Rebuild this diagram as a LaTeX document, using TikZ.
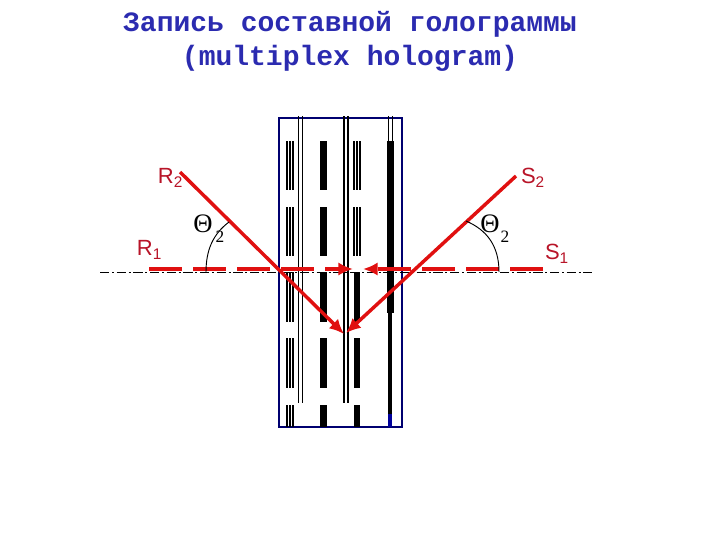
\documentclass[tikz,border=0pt]{standalone}
\usepackage{fontspec}
\setmainfont{Liberation Sans}
\setmonofont{Liberation Mono}
\newfontfamily\thetafont{Liberation Serif}
\usetikzlibrary{arrows.meta}
\definecolor{titleblue}{HTML}{2B2BB0}
\definecolor{beamred}{HTML}{E01010}
\definecolor{labelred}{HTML}{B81428}
\definecolor{framenavy}{HTML}{000070}
\tikzset{titletext/.style = {font=\ttfamily\bfseries\fontsize{21}{25.5}\selectfont,
                                    color = titleblue,
                                    align = center,
                                    inner sep=0pt},
         beamlabel/.style = {font=\fontsize{16.5}{20}\selectfont,
                                    color = labelred,
                                    inner sep=0pt},
         anglelabel/.style = {font=\thetafont\fontsize{20}{24}\selectfont,
                                    color = black,
                                    inner sep=0pt},
         angleindex/.style = {font=\thetafont\fontsize{13}{16}\selectfont,
                                    color = black,
                                    inner sep=0pt},
         beam/.style = {draw = beamred,
                                    line width = 2.6pt,
                                    -{Latex[length=11pt,width=10pt]}},
         flatbeam/.style = {beam,
                                    line width = 3.2pt,
                                    dash pattern = on 24.75pt off 8.25pt},
         fringe/.style = {draw = black,
                                    line width = 1.3pt},
         heavyfringe/.style = {draw = black,
                                    line width = 5.2pt},
         anglearc/.style = {draw = black,
                                    line width = 0.7pt}}
% the three bars of every row: top and bottom in pixels
\newcommand{\thinbars}[3]{%
  \foreach \dx in {-2.7,0,2.7}
    \draw[fringe] (#1+\dx,#2) -- (#1+\dx,#3);}
\newcommand{\thickbar}[3]{\draw[heavyfringe] (#1,#2) -- (#1,#3);}
\newcommand{\twinbar}[3]{%
  \foreach \dx in {-2,2}
    \draw[fringe] (#1+\dx,#2) -- (#1+\dx,#3);}
\begin{document}
\begin{tikzpicture}[x=0.75pt,y=-0.75pt]
  \useasboundingbox (0,0) rectangle (720,540);
  \node[titletext] (title) at (350,41) {Запись составной голограммы\\(multiplex hologram)};

  \draw[draw = framenavy, line width = 1.5pt] (279,118) rectangle (402,427);

  \twinbar{300.5}{116}{403}
  \twinbar{346}{116}{403}
  \twinbar{390.5}{116}{141}
  \foreach \top/\bot in {141/190,207/256,272/322,338/388,405/427}
    \thinbars{290}{\top}{\bot};
  \foreach \top/\bot in {141/190,207/256,272/322,338/388,405/427}
    \thickbar{323.5}{\top}{\bot};
  \foreach \top/\bot in {141/190,207/256}
    \thinbars{357}{\top}{\bot};
  \foreach \top/\bot in {272/322,338/388,405/427}
    \thickbar{357}{\top}{\bot};
  \thickbar{390.7}{141}{313}
  \draw[draw = black, line width = 3pt] (390,313) -- (390,414);
  \draw[draw = framenavy!70!blue, line width = 3.2pt] (390,414) -- (390,427);

  \coordinate (axisl) at (100,272);
  \coordinate (axisr) at (592,272);
  \draw[draw = black, line width = 0.6pt, dash pattern = on 7pt off 2pt on 1.5pt off 2pt] (axisl) -- (axisr);

  \coordinate (rone) at (149,269);
  \coordinate (rtip) at (353,269);
  \coordinate (sone) at (543,269);
  \coordinate (stip) at (363,269);
  \coordinate (rtwo) at (180,172);
  \coordinate (stwo) at (516,176);
  \coordinate (focus) at (344,334);
  \coordinate (focuss) at (346,333);
  \draw[flatbeam] (rone) -- (rtip);
  \draw[flatbeam] (sone) -- (stip);
  \draw[beam] (rtwo) -- (focus);
  \draw[beam] (stwo) -- (focuss);

  \coordinate (arcla) at (206,272);
  \coordinate (arclb) at (229,222);
  \coordinate (arcra) at (499,272);
  \coordinate (arcrb) at (466,221);
  \draw[anglearc] (arcla) .. controls (206,250) and (213,234) .. (arclb);
  \draw[anglearc] (arcra) .. controls (499,246) and (487,230) .. (arcrb);

  \node[beamlabel] (labelrtwo) at (170.5,178) {R\textsubscript{2}};
  \node[beamlabel] (labelrone) at (149.5,250) {R\textsubscript{1}};
  \node[beamlabel] (labelstwo) at (533,178) {S\textsubscript{2}};
  \node[beamlabel] (labelsone) at (557,254) {S\textsubscript{1}};
  \node[anglelabel] (thetal) at (203,224) {Θ};
  \node[angleindex] (indexl) at (220,237) {2};
  \node[anglelabel] (thetar) at (490,224) {Θ};
  \node[angleindex] (indexr) at (505,237) {2};
\end{tikzpicture}
\end{document}
